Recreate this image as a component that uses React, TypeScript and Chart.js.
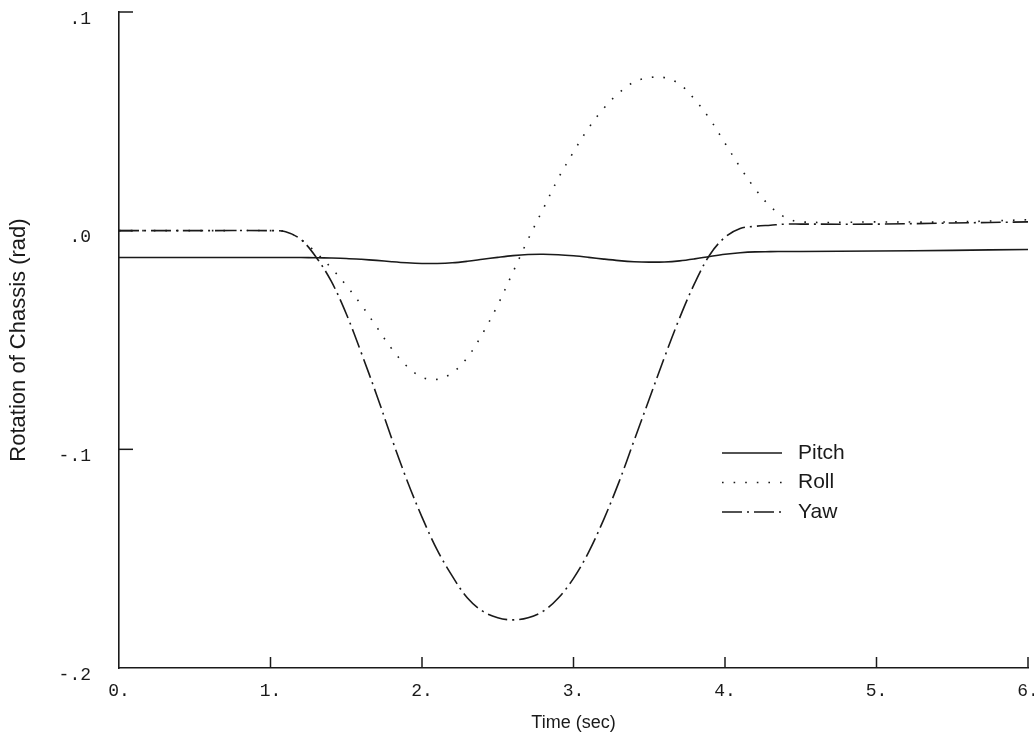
import React, { useEffect, useRef } from "react";
import { Chart, registerables } from "chart.js";

Chart.register(...registerables);

const timeSec = [0, 0.5, 1.0, 1.1, 1.2, 1.3, 1.4, 1.5, 1.6, 1.7, 1.8, 1.9, 2.0, 2.1, 2.2, 2.3, 2.4, 2.5, 2.6, 2.7, 2.8, 2.9, 3.0, 3.1, 3.2, 3.3, 3.4, 3.5, 3.6, 3.7, 3.8, 3.9, 4.0, 4.1, 4.2, 4.3, 4.4, 4.5, 5.0, 5.5, 6.0];

const pitch = [-0.0123, -0.0123, -0.0123, -0.0123, -0.0123, -0.0124, -0.0125, -0.0127, -0.0131, -0.0136, -0.0142, -0.0147, -0.015, -0.015, -0.0147, -0.014, -0.0131, -0.0122, -0.0114, -0.0109, -0.0108, -0.011, -0.0115, -0.0122, -0.013, -0.0137, -0.0142, -0.0144, -0.0143, -0.0138, -0.0129, -0.0118, -0.0108, -0.0101, -0.0097, -0.0096, -0.0095, -0.0095, -0.0093, -0.009, -0.0086];

const roll = [0, 0, 0, -0.0005, -0.004, -0.01, -0.017, -0.025, -0.034, -0.044, -0.054, -0.062, -0.067, -0.068, -0.065, -0.058, -0.047, -0.034, -0.019, -0.004, 0.01, 0.024, 0.036, 0.047, 0.056, 0.063, 0.068, 0.07, 0.07, 0.067, 0.06, 0.051, 0.04, 0.029, 0.019, 0.011, 0.006, 0.004, 0.004, 0.004, 0.005];

const yaw = [0, 0, 0, -0.0005, -0.004, -0.012, -0.023, -0.038, -0.056, -0.075, -0.095, -0.114, -0.131, -0.146, -0.158, -0.168, -0.174, -0.177, -0.178, -0.177, -0.174, -0.168, -0.159, -0.147, -0.132, -0.115, -0.096, -0.077, -0.058, -0.04, -0.024, -0.011, -0.003, 0.001, 0.002, 0.0025, 0.003, 0.003, 0.003, 0.0035, 0.004];

const xTickValues = [0, 1, 2, 3, 4, 5, 6];
const xTickLabels = ["0.", "1.", "2.", "3.", "4.", "5.", "6."];
const yTickValues = [0.1, 0, -0.1, -0.2];
const yTickLabels = [".1", ".0", "-.1", "-.2"];

const seriesNames = ["Pitch", "Roll", "Yaw"];

const INK = "#1a1a1a";
const DASHES: number[][] = [[], [1.6, 10], [20, 5, 2, 5]];

const tickFont = { family: "'Liberation Mono', 'DejaVu Sans Mono', monospace", size: 18 };
const textFont = "'Liberation Sans', Arial, sans-serif";

const toPts = (vals: number[]) => vals.map((v, i) => ({ x: timeSec[i], y: v }));

const inwardTicks = {
  id: "inwardTicks",
  afterDraw(chart: any) {
    const { ctx, chartArea, scales } = chart;
    ctx.save();
    ctx.strokeStyle = INK;
    ctx.lineWidth = 1.5;
    ctx.setLineDash([]);
    xTickValues.forEach((v) => {
      if (v === 0) return;
      const px = scales.x.getPixelForValue(v);
      ctx.beginPath();
      ctx.moveTo(px, chartArea.bottom);
      ctx.lineTo(px, chartArea.bottom - 11);
      ctx.stroke();
    });
    yTickValues.forEach((v) => {
      if (v === -0.2) return;
      const py = scales.y.getPixelForValue(v);
      ctx.beginPath();
      ctx.moveTo(chartArea.left, py);
      ctx.lineTo(chartArea.left + 14, py);
      ctx.stroke();
    });
    ctx.restore();
  },
};

const plotLegend = {
  id: "plotLegend",
  afterDraw(chart: any) {
    const { ctx } = chart;
    ctx.save();
    const x0 = 722;
    const x1 = 782;
    const y0 = 453;
    const gap = 29.5;
    seriesNames.forEach((name, i) => {
      const y = y0 + i * gap;
      ctx.strokeStyle = INK;
      ctx.lineWidth = 1.5;
      ctx.setLineDash(DASHES[i]);
      ctx.beginPath();
      ctx.moveTo(x0, y);
      ctx.lineTo(x1, y);
      ctx.stroke();
      ctx.setLineDash([]);
      ctx.fillStyle = INK;
      ctx.font = `21px ${textFont}`;
      ctx.textAlign = "left";
      ctx.textBaseline = "middle";
      ctx.fillText(name, 798, y);
    });
    ctx.restore();
  },
};

export default function App() {
  const ref = useRef<HTMLCanvasElement | null>(null);

  useEffect(() => {
    if (!ref.current) return;
    const chart = new Chart(ref.current, {
      type: "line",
      data: {
        datasets: [pitch, roll, yaw].map((vals, i) => ({
          label: seriesNames[i],
          data: toPts(vals),
          borderColor: INK,
          borderWidth: 1.6,
          borderDash: DASHES[i],
          pointRadius: 0,
          fill: false,
          tension: 0.35,
        })),
      },
      options: {
        animation: false,
        responsive: false,
        maintainAspectRatio: false,
        layout: { padding: { top: 12, right: 6, bottom: 0, left: 0 } },
        plugins: {
          legend: { display: false },
          tooltip: { enabled: false },
        },
        scales: {
          x: {
            type: "linear",
            min: 0,
            max: 6,
            afterBuildTicks: (scale: any) => {
              scale.ticks = xTickValues.map((v) => ({ value: v }));
            },
            afterFit: (scale: any) => {
              scale.height = 72;
              scale.paddingLeft = 0;
              scale.paddingRight = 0;
            },
            grid: { display: false, drawTicks: false },
            border: { display: true, color: INK, width: 1.6 },
            ticks: {
              color: INK,
              font: tickFont,
              padding: 12,
              maxRotation: 0,
              autoSkip: false,
              callback: (v: any) => {
                const idx = xTickValues.indexOf(Number(v));
                return idx >= 0 ? xTickLabels[idx] : "";
              },
            },
            title: {
              display: true,
              text: "Time (sec)",
              color: INK,
              font: { family: textFont, size: 18 },
              padding: { top: 0, bottom: 6 },
            },
          },
          y: {
            type: "linear",
            min: -0.2,
            max: 0.1,
            afterBuildTicks: (scale: any) => {
              scale.ticks = yTickValues.map((v) => ({ value: v }));
            },
            afterFit: (scale: any) => {
              scale.width = 119;
              scale.paddingTop = 0;
              scale.paddingBottom = 0;
            },
            grid: { display: false, drawTicks: false },
            border: { display: true, color: INK, width: 1.6 },
            ticks: {
              color: INK,
              font: tickFont,
              padding: 28,
              labelOffset: 7,
              autoSkip: false,
              callback: (v: any) => {
                const idx = yTickValues.findIndex((t) => Math.abs(t - Number(v)) < 1e-9);
                return idx >= 0 ? yTickLabels[idx] : "";
              },
            },
            title: {
              display: true,
              text: "Rotation of Chassis (rad)",
              color: INK,
              font: { family: textFont, size: 22 },
              padding: { top: 6, bottom: 0 },
            },
          },
        },
      },
      plugins: [inwardTicks, plotLegend],
    });
    return () => chart.destroy();
  }, []);

  return (
    <div style={{ position: "fixed", left: 0, top: 0, width: 1034, height: 740, background: "#fff" }}>
      <canvas ref={ref} width={1034} height={740} style={{ width: 1034, height: 740, display: "block" }} />
    </div>
  );
}
